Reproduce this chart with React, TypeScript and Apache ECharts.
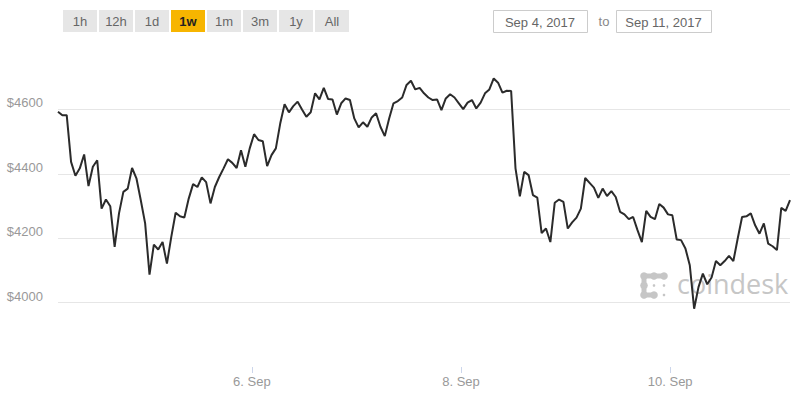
import React, { useEffect, useRef } from "react";
import * as echarts from "echarts";

// Hourly BTC price (USD), Sep 4 2017 03:30 UTC -> Sep 11 2017 03:30 UTC
const PRICES: number[] = [
  4593, 4582, 4582, 4437, 4394, 4417, 4460, 4362, 4422, 4442,
  4292, 4320, 4299, 4173, 4277, 4344, 4354, 4418, 4386, 4318,
  4246, 4087, 4180, 4165, 4188, 4121, 4204, 4279, 4268, 4264,
  4323, 4368, 4359, 4389,
  4374, 4308, 4359, 4390, 4417, 4445, 4434, 4418, 4473, 4422,
  4479, 4523, 4505, 4501, 4424, 4458, 4479, 4556, 4616, 4591,
  4610, 4624, 4600, 4577, 4591, 4650, 4631, 4667, 4632, 4631,
  4584, 4619, 4634,
  4629, 4572, 4544, 4560, 4546, 4575, 4588, 4546, 4517, 4572,
  4619, 4626, 4637, 4676, 4689, 4662, 4667, 4650, 4637, 4629,
  4631, 4598, 4634, 4647, 4637, 4619, 4601, 4621, 4629, 4603,
  4621, 4650, 4662, 4696,
  4683, 4652, 4658, 4657, 4417, 4330, 4406, 4396, 4334, 4326,
  4216, 4230, 4188, 4310, 4320, 4313, 4230, 4249, 4264, 4292,
  4387, 4372, 4357, 4325, 4354, 4331, 4346, 4328, 4282, 4274,
  4259, 4266, 4225,
  4188, 4285, 4266, 4259, 4306, 4295, 4274, 4271, 4196, 4194,
  4168, 4116, 3981, 4048, 4090, 4057, 4078, 4129, 4116, 4129,
  4145, 4129, 4199, 4266, 4268, 4277, 4240, 4214, 4246, 4183,
  4175, 4163, 4294, 4285, 4318,
];

const START_TIME = Date.UTC(2017, 8, 4, 3, 30);
const STEP_MS = 3600 * 1000;
const X_TICKS: number[] = [Date.UTC(2017, 8, 6), Date.UTC(2017, 8, 8), Date.UTC(2017, 8, 10)];
const MONTH_LABEL = "Sep";
const RANGE_BUTTONS: string[] = ["1h", "12h", "1d", "1w", "1m", "3m", "1y", "All"];
const SELECTED_RANGE = "1w";
const FROM_DATE = "Sep 4, 2017";
const TO_DATE = "Sep 11, 2017";
const Y_MIN = 3800;
const Y_MAX = 4800;
const Y_STEP = 200;

const FONT = "'Liberation Sans', Arial, sans-serif";

export default function App() {
  const ref = useRef<HTMLDivElement>(null);

  useEffect(() => {
    if (!ref.current) return;
    const chart = echarts.init(ref.current, undefined, { renderer: "svg" });

    const seriesData = PRICES.map((v, i) => [START_TIME + i * STEP_MS, v]);
    const endTime = START_TIME + (PRICES.length - 1) * STEP_MS;

    const buttons: any[] = RANGE_BUTTONS.map((label, i) => {
      const sel = label === SELECTED_RANGE;
      return {
        type: "group",
        x: 63 + i * 36,
        y: 10,
        children: [
          {
            type: "rect",
            shape: { x: 0, y: 0, width: 34, height: 22 },
            style: { fill: sel ? "#f7b500" : "#e6e6e6" },
          },
          {
            type: "text",
            style: {
              text: label,
              x: 17,
              y: 11.5,
              align: "center",
              verticalAlign: "middle",
              fill: sel ? "#222" : "#666",
              fontSize: 13,
              fontWeight: sel ? "bold" : "normal",
              fontFamily: FONT,
            },
          },
        ],
      };
    });

    const dateBox = (x: number, w: number, text: string) => ({
      type: "group",
      x,
      y: 10,
      children: [
        {
          type: "rect",
          shape: { x: 0.5, y: 0.5, width: w, height: 22 },
          style: { fill: "#fff", stroke: "#cccccc", lineWidth: 1 },
        },
        {
          type: "text",
          style: {
            text,
            x: w / 2,
            y: 12,
            align: "center",
            verticalAlign: "middle",
            fill: "#666",
            fontSize: 13,
            fontFamily: FONT,
          },
        },
      ],
    });

    const logoColor = "#c6c6c6";
    const bigDots = [
      [644, 276], [654, 276], [664, 276],
      [644, 285.5], [644, 295], [654, 295],
    ];
    const smallDots = [[654, 285.5], [664, 285.5], [664, 295]];
    const logo: any[] = [
      { type: "rect", shape: { x: 644, y: 273.5, width: 20, height: 5 }, style: { fill: logoColor } },
      { type: "rect", shape: { x: 641.5, y: 276, width: 5, height: 19 }, style: { fill: logoColor } },
      { type: "rect", shape: { x: 644, y: 292.5, width: 10, height: 5 }, style: { fill: logoColor } },
      ...bigDots.map(([cx, cy]) => ({
        type: "circle",
        shape: { cx, cy, r: 3.8 },
        style: { fill: logoColor },
      })),
      ...smallDots.map(([cx, cy]) => ({
        type: "circle",
        shape: { cx, cy, r: 1.3 },
        style: { fill: logoColor },
      })),
      {
        type: "text",
        style: {
          text: "coindesk",
          x: 677,
          y: 297,
          align: "left",
          verticalAlign: "bottom",
          fill: logoColor,
          fontSize: 27,
          fontFamily: "'Open Sans', 'Liberation Sans', sans-serif",
        },
      },
    ];

    chart.setOption({
      animation: false,
      backgroundColor: "#ffffff",
      grid: { left: 58, right: 10, top: 45, bottom: 33 },
      xAxis: {
        type: "value",
        min: START_TIME,
        max: endTime,
        axisLine: { show: false },
        axisTick: {
          show: true,
          customValues: X_TICKS,
          length: 6,
          lineStyle: { color: "#ccd6eb" },
        },
        axisLabel: {
          customValues: X_TICKS,
          formatter: (v: number) => `${new Date(v).getUTCDate()}. ${MONTH_LABEL}`,
          color: "#999",
          fontSize: 13,
          fontFamily: FONT,
          margin: 8,
        },
        splitLine: { show: false },
      },
      yAxis: {
        type: "value",
        min: Y_MIN,
        max: Y_MAX,
        interval: Y_STEP,
        axisLine: { show: false },
        axisTick: { show: false },
        axisLabel: {
          showMinLabel: false,
          showMaxLabel: false,
          formatter: (v: number) => `$${v}`,
          color: "#999",
          fontSize: 13,
          fontFamily: FONT,
          margin: 15,
          verticalAlign: "bottom",
          lineHeight: 13,
        },
        splitLine: {
          show: true,
          showMinLine: false,
          showMaxLine: false,
          lineStyle: { color: "#e6e6e6", width: 1 },
        },
      },
      graphic: [
        ...buttons,
        dateBox(493, 94, FROM_DATE),
        {
          type: "text",
          style: {
            text: "to",
            x: 604,
            y: 21,
            align: "center",
            verticalAlign: "middle",
            fill: "#888",
            fontSize: 13,
            fontFamily: FONT,
          },
        },
        dateBox(616, 95, TO_DATE),
        ...logo,
      ],
      series: [
        {
          type: "line",
          data: seriesData,
          showSymbol: false,
          symbol: "none",
          z: 5,
          lineStyle: { color: "#2b2b2b", width: 2 },
        },
      ],
    });

    return () => chart.dispose();
  }, []);

  return (
    <div
      ref={ref}
      style={{ position: "absolute", left: 0, top: 0, width: 800, height: 400 }}
    />
  );
}
